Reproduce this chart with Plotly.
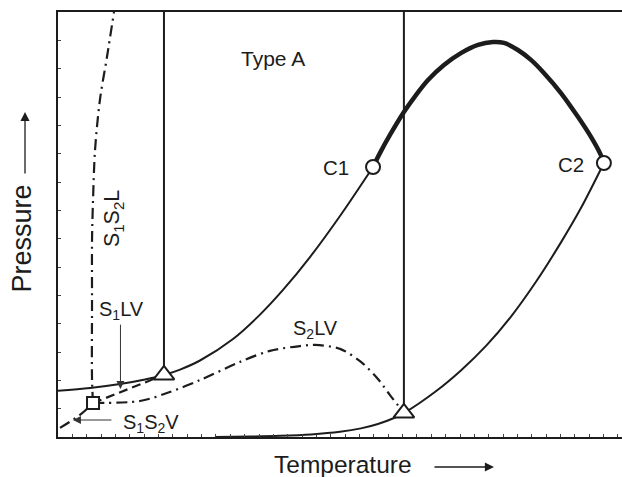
import plotly.graph_objects as go

# Temperature / pressure in arbitrary units (no numeric scale is shown)
T_MAX, P_MAX = 39.28, 15.0

# Vapour-pressure curve of component 1 (ends at critical point C1)
t_vp1 = [0.0, 2.23, 4.32, 6.06, 7.38, 8.50, 9.89, 12.19, 14.07, 15.67, 17.55, 19.64, 21.94]
p_vp1 = [1.63, 1.73, 1.87, 2.03, 2.19, 2.38, 2.70, 3.46, 4.32, 5.19, 6.35, 7.80, 9.53]

# Vapour-pressure curve of component 2 (ends at critical point C2)
t_vp2 = [10.93, 13.37, 15.46, 17.62, 19.64, 21.10, 22.28, 23.40, 24.09, 26.32, 28.06, 29.81,
         31.55, 33.29, 35.03, 36.42, 38.02]
p_vp2 = [0.0, 0.016, 0.042, 0.092, 0.184, 0.304, 0.459, 0.671, 0.847, 1.617, 2.351, 3.216,
         4.250, 5.478, 6.869, 8.080, 9.672]

# Critical locus C1 -> C2
t_crit = [21.94, 22.42, 23.12, 24.09, 24.93, 25.77, 26.88, 28.06, 29.25, 30.29, 31.06, 32.03,
          32.94, 33.84, 35.03, 36.21, 37.12, 37.81, 38.02]
p_crit = [9.53, 10.02, 10.66, 11.47, 12.07, 12.60, 13.13, 13.55, 13.84, 13.94, 13.91, 13.66,
          13.31, 12.85, 12.14, 11.30, 10.59, 9.95, 9.67]

# Three-phase lines
t_s2lv = [2.44, 5.71, 7.59, 9.89, 12.67, 14.76, 16.85, 17.90, 19.64, 21.10, 22.28, 23.12, 24.09]
p_s2lv = [1.20, 1.27, 1.55, 2.01, 2.65, 3.04, 3.21, 3.25, 3.11, 2.65, 2.05, 1.48, 0.85]

t_s1lv = [2.44, 4.90, 7.38]
p_s1lv = [1.20, 1.68, 2.19]

t_s1s2v = [0.14, 1.53, 2.44]
p_s1s2v = [0.32, 0.78, 1.20]

t_s1s2l = [2.44, 2.37, 2.37, 2.37, 2.44, 2.58, 2.92, 3.41, 3.90]
p_s1s2l = [1.20, 2.01, 4.84, 6.95, 8.37, 10.13, 11.90, 13.41, 15.0]

# Special points
t_quad, p_quad = [2.44], [1.20]              # quadruple point
t_tri = [7.38, 24.09]                          # critical end points
p_tri = [2.19, 0.85]
t_crit_pts = [21.94, 38.02]                    # C1, C2
p_crit_pts = [9.53, 9.67]

INK = "#1c1c1c"
FONT = "Liberation Sans, Arial, Helvetica, sans-serif"
DASHDOT = "11px,5px,2px,5px"

fig = go.Figure()


def curve(x, y, width=2, dash="solid", shape="spline"):
    fig.add_trace(go.Scatter(x=x, y=y, mode="lines",
                             line=dict(color=INK, width=width, dash=dash, shape=shape, smoothing=0.9),
                             hoverinfo="skip", showlegend=False))


curve(t_vp1, p_vp1)
curve(t_vp2, p_vp2)
curve(t_crit, p_crit, width=4.5)
curve(t_s2lv, p_s2lv, width=2.2, dash=DASHDOT)
curve(t_s1lv, p_s1lv, width=2.2, dash="9px,5px", shape="linear")
curve(t_s1s2v, p_s1s2v, width=2.2, dash=DASHDOT)
curve(t_s1s2l, p_s1s2l, width=2.2, dash=DASHDOT)

# Vertical lines rising from the critical end points
for t, p in zip(t_tri, p_tri):
    curve([t, t], [p, P_MAX], width=2, shape="linear")

marker_line = dict(color=INK, width=2)
fig.add_trace(go.Scatter(x=t_quad, y=p_quad, mode="markers", hoverinfo="skip", showlegend=False,
                         marker=dict(symbol="square", size=12, color="white", line=marker_line)))
fig.add_trace(go.Scatter(x=t_tri, y=p_tri, mode="markers", hoverinfo="skip", showlegend=False,
                         marker=dict(symbol="triangle-up", size=18, color="white", line=marker_line)))
fig.add_trace(go.Scatter(x=t_crit_pts, y=p_crit_pts, mode="markers", hoverinfo="skip", showlegend=False,
                         marker=dict(symbol="circle", size=14, color="white", line=marker_line)))


def label(text, x, y, size=20, xanchor="center", angle=0):
    fig.add_annotation(x=x, y=y, text=text, showarrow=False, xanchor=xanchor, yanchor="middle",
                       textangle=angle, font=dict(family=FONT, size=size, color=INK))


label("Type A", 14.95, 13.35, size=21)
label("C1", 19.39, 9.50, size=20.5)
label("C2", 35.76, 9.63, size=20.5)
label("S<sub>1</sub>LV", 2.72, 4.45, xanchor="left")
label("S<sub>2</sub>LV", 16.25, 3.80, xanchor="left")
label("S<sub>1</sub>S<sub>2</sub>V", 4.40, 0.48, xanchor="left")
label("S<sub>1</sub>S<sub>2</sub>L", 3.92, 7.70, size=21.5, angle=-90)

# Pointer arrows for the S1LV and S1S2V labels
fig.add_annotation(x=4.35, y=1.69, ax=0, ay=-66, text="", showarrow=True, arrowhead=2,
                   arrowsize=1.6, arrowwidth=1, arrowcolor="#333")
fig.add_annotation(x=1.04, y=0.60, ax=40, ay=0, text="", showarrow=True, arrowhead=2,
                   arrowsize=1.6, arrowwidth=1, arrowcolor="#333")

# Axis titles with direction arrows
fig.add_annotation(xref="paper", yref="paper", x=0.505, y=-0.064, text="Temperature", showarrow=False,
                   xanchor="center", yanchor="middle", font=dict(family=FONT, size=24.5, color=INK))
fig.add_annotation(xref="paper", yref="paper", x=0.773, y=-0.0706, ax=-61, ay=0, text="",
                   showarrow=True, arrowhead=2, arrowsize=1.4, arrowwidth=1.3, arrowcolor=INK)
fig.add_annotation(xref="paper", yref="paper", x=-0.063, y=0.468, text="Pressure", showarrow=False,
                   textangle=-90, xanchor="center", yanchor="middle",
                   font=dict(family=FONT, size=27, color=INK))
fig.add_annotation(xref="paper", yref="paper", x=-0.0585, y=0.765, ax=0, ay=63, text="",
                   showarrow=True, arrowhead=2, arrowsize=1.4, arrowwidth=1.3, arrowcolor=INK)

fig.update_xaxes(range=[0, T_MAX], showgrid=False, zeroline=False, showticklabels=False,
                 ticks="inside", ticklen=3, tickwidth=1, tickcolor="#444", dtick=1, tick0=0,
                 showline=True, linecolor=INK, linewidth=2, mirror=True)
fig.update_yaxes(range=[0, P_MAX], showgrid=False, zeroline=False, showticklabels=False,
                 ticks="inside", ticklen=3, tickwidth=1, tickcolor="#444", dtick=1, tick0=0,
                 showline=True, linecolor=INK, linewidth=2, mirror=False)

fig.update_layout(width=622, height=477, margin=dict(l=58, r=0, t=12, b=40, pad=0),
                  plot_bgcolor="white", paper_bgcolor="white", showlegend=False)

fig.write_html("out.html")
